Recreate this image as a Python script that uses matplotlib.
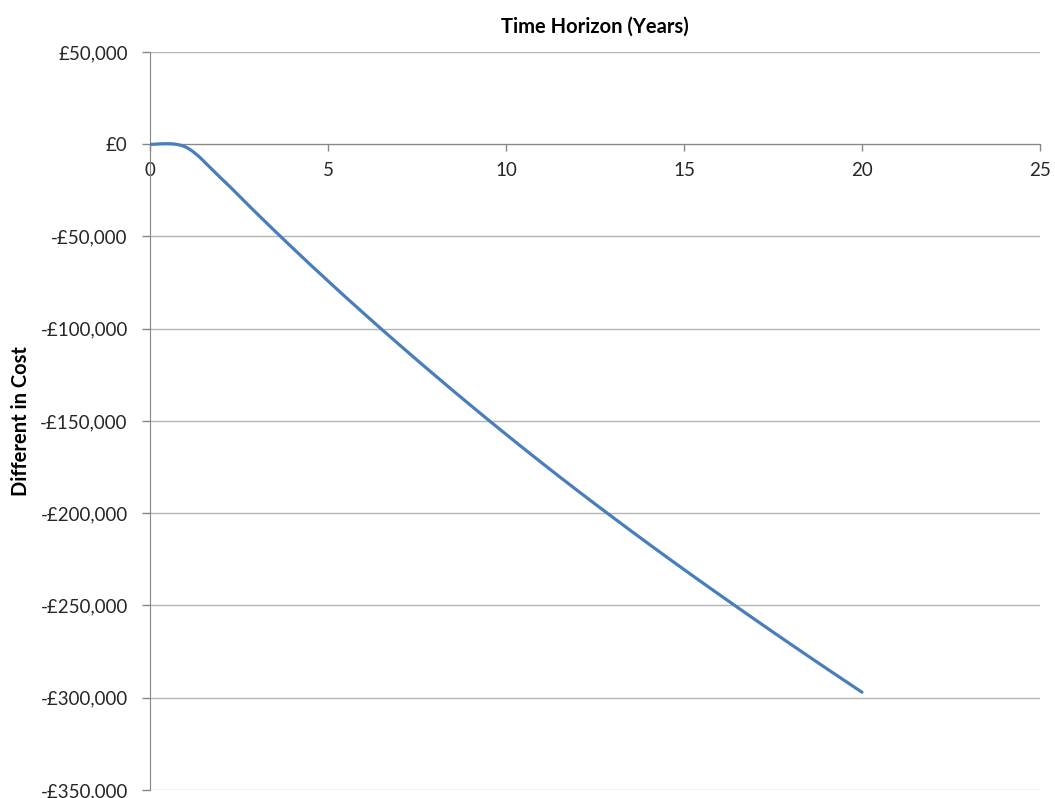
import matplotlib
matplotlib.use("Agg")
import matplotlib.pyplot as plt
from matplotlib.path import Path
from matplotlib.patches import PathPatch
from matplotlib.ticker import FuncFormatter, MultipleLocator

plt.rcParams['font.family'] = ['Lato', 'DejaVu Sans']

# Cumulative cost difference by year
years = [0, 1, 2, 3, 4, 5, 6, 7, 8, 9, 10,
         11, 12, 13, 14, 15, 16, 17, 18, 19, 20]
cost_diff = [0, -1500, -18500, -37500, -56100, -74100, -91600, -108600,
             -125200, -141400, -157200, -172600, -187600, -202200,
             -216500, -230500, -244200, -257700, -271000, -284100, -297000]

x_title = "Time Horizon (Years)"
y_title = "Different in Cost"

LINE_COLOR = "#4a7ebb"
AXIS_COLOR = "#868686"
GRID_COLOR = "#b4b4b4"
TEXT_COLOR = "#262626"


def smooth_path(xs, ys):
    """Cubic Bezier path through the points (spreadsheet-style smoothed line)."""
    pts = list(zip(xs, ys))
    n = len(pts)
    verts = [pts[0]]
    codes = [Path.MOVETO]
    for i in range(n - 1):
        p0 = pts[i - 1] if i > 0 else pts[i]
        p1 = pts[i]
        p2 = pts[i + 1]
        p3 = pts[i + 2] if i + 2 < n else pts[i + 1]
        c1 = (p1[0] + (p2[0] - p0[0]) / 6.0, p1[1] + (p2[1] - p0[1]) / 6.0)
        c2 = (p2[0] - (p3[0] - p1[0]) / 6.0, p2[1] - (p3[1] - p1[1]) / 6.0)
        verts += [c1, c2, p2]
        codes += [Path.CURVE4] * 3
    return Path(verts, codes)


fig = plt.figure(figsize=(10.55, 7.98), dpi=100)
ax = fig.add_axes([150 / 1055, 8 / 798, 890 / 1055, 738 / 798])

ax.set_xlim(0, 25)
ax.set_ylim(-350000, 50000)
ax.xaxis.set_major_locator(MultipleLocator(5))
ax.yaxis.set_major_locator(MultipleLocator(50000))


def money(v, pos):
    v = int(round(v))
    if v == 0:
        return "£0"
    sign = "-" if v < 0 else ""
    return f"{sign}£{abs(v):,}"


ax.yaxis.set_major_formatter(FuncFormatter(money))

ax.grid(axis='y', color=GRID_COLOR, linewidth=1.0)
ax.set_axisbelow(True)

for side in ('top', 'right'):
    ax.spines[side].set_visible(False)
ax.spines['bottom'].set_position(('data', 0))
ax.spines['bottom'].set_color(AXIS_COLOR)
ax.spines['left'].set_color(AXIS_COLOR)
ax.spines['bottom'].set_zorder(1.5)

ax.tick_params(axis='y', direction='out', length=6, width=1, color=AXIS_COLOR,
               pad=10, labelsize=13.5, labelcolor=TEXT_COLOR)
ax.tick_params(axis='x', direction='out', length=5, width=1, color=AXIS_COLOR,
               pad=8, labelsize=13.5, labelcolor=TEXT_COLOR)

patch = PathPatch(smooth_path(years, cost_diff), facecolor='none',
                  edgecolor=LINE_COLOR, linewidth=2.3, capstyle='round',
                  joinstyle='round', zorder=3)
ax.add_patch(patch)

fig.text(595 / 1055, 1 - 27 / 798, x_title, ha='center', va='center',
         fontsize=14.5, fontweight='bold', color='black')
fig.text(21 / 1055, 1 - 421 / 798, y_title, ha='center', va='center',
         rotation=90, fontsize=14.5, fontweight='bold', color='black')

fig.savefig("out.png", dpi=100)
